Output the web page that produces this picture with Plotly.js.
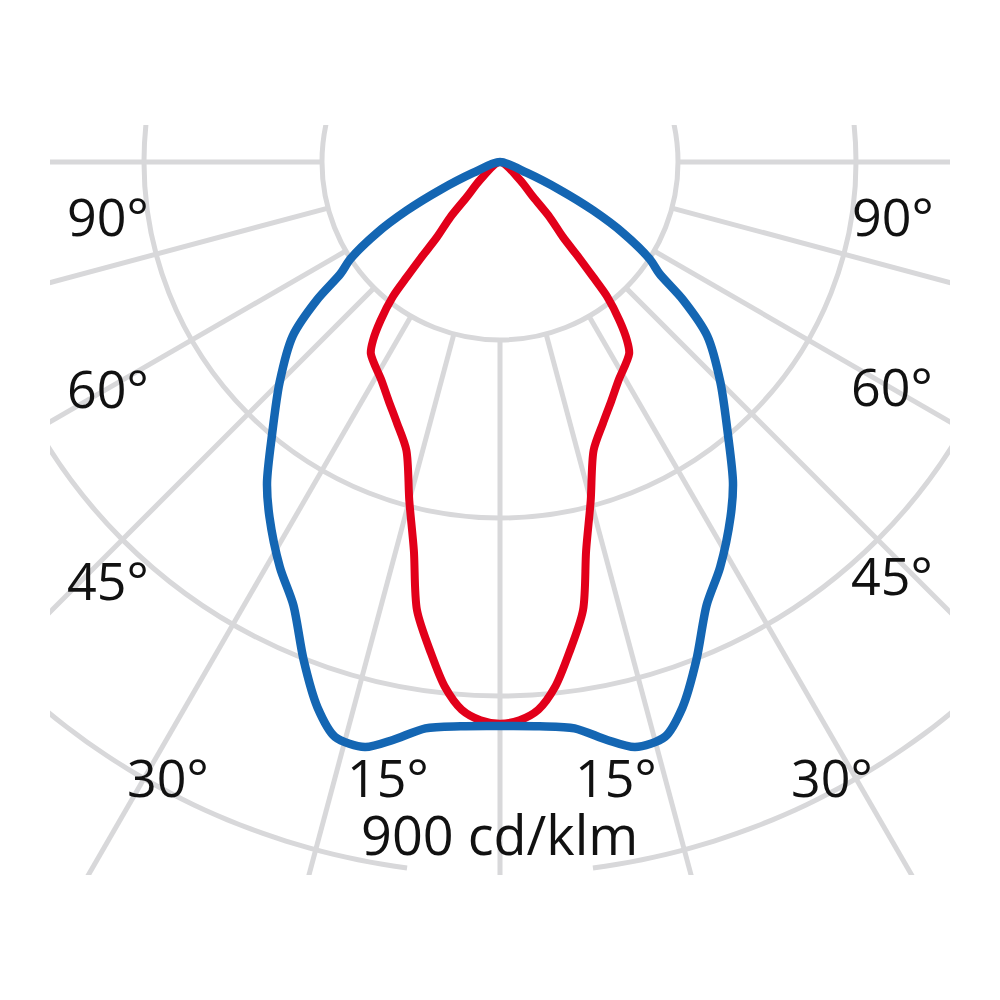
<!DOCTYPE html>
<html>
<head>
<meta charset="utf-8">
<script src="https://cdn.plot.ly/plotly-3.0.1.min.js"></script>
<style>
  html, body { margin:0; padding:0; background:#ffffff; }
  #clip { position:absolute; left:50px; top:125px; width:900px; height:750px; overflow:hidden; background:#ffffff; }
  #plot { position:absolute; left:-450px; top:-863px; width:1800px; height:1800px; }
</style>
</head>
<body>
<div id="clip"><div id="plot"></div></div>
<script>
// ---- data (angle from nadir in degrees, luminous intensity in cd/klm) ----
const blueAngles = [0, 4, 7.5, 10.5, 13, 16, 18.5, 21.5, 25, 28.5, 33, 36, 40, 45, 50, 53, 55, 57, 60, 62.5, 65, 68, 71];
const blueValues = [713, 715, 722, 743, 759, 756, 727, 677, 618, 583, 535, 501, 448, 394, 342, 290, 246, 226, 180, 133, 83, 37, 0];

const redAngles = [0, 2, 4, 6, 8, 10.5, 12.5, 15, 18, 21.5, 25, 28.5, 34, 35.5, 37, 38.5, 39, 39.5, 40, 42, 43.5, 48, 52];
const redValues = [710, 706, 694, 667, 627, 576, 503, 443, 383, 355, 333, 314, 292, 276, 251, 218, 187, 157, 124, 94, 61, 34, 0];

const ringValues = [225, 450, 675];          // full grid circles
const outerRingValue = 900;                   // outer circle (broken at the label)
const spokeAngles = [-90, -75, -60, -45, -30, -15, 0, 15, 30, 45, 60, 75, 90];
const angleLabels = ['90°', '60°', '45°', '30°', '15°'];
const scaleLabel = '900 cd/klm';

// ---- helpers ----
const RMAX = 1137.6;
function loop(angles, values) {
  // right half (positive angles) then mirrored left half back to nadir
  const th = angles.concat(angles.slice(0, -1).reverse().map(a => -a));
  const r = values.concat(values.slice(0, -1).reverse());
  return {th, r};
}
const GRID = '#d8d8da';
const GW = 5;

// spokes: from first ring outwards
const spokeTh = [], spokeR = [];
spokeAngles.forEach(a => { spokeTh.push(a, a, null); spokeR.push(ringValues[0], RMAX, null); });

// outer ring arc with a gap around the nadir
const outerTh = [], outerR = [];
for (let a = 7.5; a <= 352.5; a += 1) { outerTh.push(a); outerR.push(outerRingValue); }

const blue = loop(blueAngles, blueValues);
const red = loop(redAngles, redValues);

const traces = [
  {type:'scatterpolar', mode:'lines', theta:outerTh, r:outerR, line:{color:GRID, width:GW}, hoverinfo:'skip'},
  {type:'scatterpolar', mode:'lines', theta:spokeTh, r:spokeR, connectgaps:false, line:{color:GRID, width:GW}, hoverinfo:'skip'},
  {type:'scatterpolar', mode:'lines', theta:red.th, r:red.r, line:{color:'#e2001a', width:8, shape:'spline', smoothing:0.8}},
  {type:'scatterpolar', mode:'lines', theta:blue.th, r:blue.r, line:{color:'#1466b3', width:8.5, shape:'spline', smoothing:0.8}}
];

// label positions in page pixels -> paper coords of the oversized plot
const OX = -400, OY = -738, S = 1800;
function ann(text, px, py, size) {
  return {text, xref:'paper', yref:'paper', x:(px - OX)/S, y:1 - (py - OY)/S,
          xanchor:'center', yanchor:'middle', showarrow:false,
          font:{family:'Open Sans, sans-serif', size:size, color:'#111111'}};
}
const annotations = [
  ann(angleLabels[0], 108, 215, 52), ann(angleLabels[0], 893, 215, 52),
  ann(angleLabels[1], 108, 387, 52), ann(angleLabels[1], 892, 385, 52),
  ann(angleLabels[2], 108, 579, 52), ann(angleLabels[2], 892, 574, 52),
  ann(angleLabels[3], 168, 776, 52), ann(angleLabels[3], 832, 776, 52),
  ann(angleLabels[4], 388, 776, 52), ann(angleLabels[4], 616, 776, 52),
  ann(scaleLabel, 499, 834, 54)
];

const layout = {
  width:S, height:S, margin:{l:0, r:0, t:0, b:0},
  paper_bgcolor:'#ffffff', showlegend:false,
  polar:{
    domain:{x:[0,1], y:[0,1]},
    bgcolor:'#ffffff',
    radialaxis:{range:[0, RMAX], tickvals:ringValues, showticklabels:false, ticks:'',
                showline:false, showgrid:true, gridcolor:GRID, gridwidth:GW},
    angularaxis:{rotation:-90, direction:'counterclockwise', showgrid:false, showline:false,
                 showticklabels:false, ticks:''}
  },
  annotations
};
Plotly.newPlot('plot', traces, layout, {staticPlot:true, displayModeBar:false});
</script>
</body>
</html>
